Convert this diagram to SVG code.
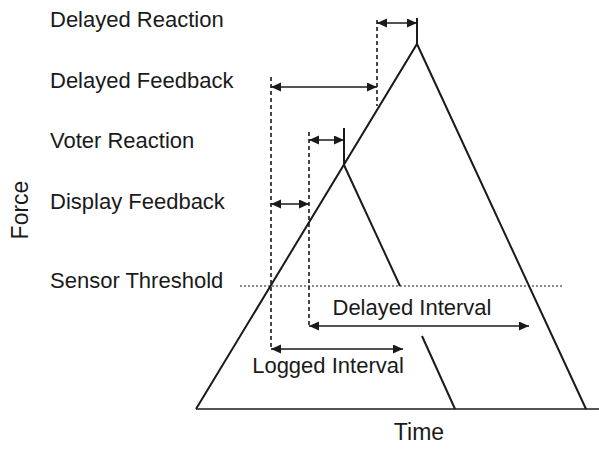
<svg xmlns="http://www.w3.org/2000/svg" width="599" height="450" viewBox="0 0 599 450">
  <style>
    .lbl { font-family: "Liberation Sans", Arial, Helvetica, sans-serif; font-size: 22px; fill: #1a1a1a; }
    .axis { font-family: "Liberation Sans", Arial, Helvetica, sans-serif; font-size: 23px; fill: #1a1a1a; }
    .curve { fill: none; stroke: #1a1a1a; stroke-width: 2; stroke-linecap: butt; }
    .base { fill: none; stroke: #1a1a1a; stroke-width: 1.6; }
    .dash { fill: none; stroke: #1a1a1a; stroke-width: 1.6; stroke-dasharray: 4 3; }
    .dot { fill: none; stroke: #1a1a1a; stroke-width: 1.1; stroke-dasharray: 2 2; }
    .dim { fill: none; stroke: #1a1a1a; stroke-width: 1.3; marker-start: url(#head); marker-end: url(#head); }
  </style>
  <defs>
    <marker id="head" markerUnits="userSpaceOnUse" markerWidth="11" markerHeight="10" refX="10" refY="4.5" orient="auto-start-reverse">
      <path d="M0,0 L10,4.5 L0,9 z" fill="#1a1a1a"/>
    </marker>
  </defs>

  <rect width="599" height="450" fill="#ffffff"/>

  <!-- axis labels -->
  <g id="axis-time"><text class="axis" x="419" y="440" text-anchor="middle">Time</text></g>
  <g id="axis-force"><text class="axis" x="0" y="0" text-anchor="middle" transform="translate(28 210) rotate(-90)">Force</text></g>

  <!-- row labels -->
  <g id="label-delayed-reaction"><text class="lbl" x="50" y="27">Delayed Reaction</text></g>
  <g id="label-delayed-feedback"><text class="lbl" x="50" y="88">Delayed Feedback</text></g>
  <g id="label-voter-reaction"><text class="lbl" x="50" y="148">Voter Reaction</text></g>
  <g id="label-display-feedback"><text class="lbl" x="50" y="209">Display Feedback</text></g>
  <g id="label-sensor-threshold"><text class="lbl" x="50" y="288">Sensor Threshold</text></g>

  <!-- force profiles -->
  <g id="profile-large">
    <path class="curve" d="M196,409 L417,44 L586,409"/>
    <line class="curve" x1="417" y1="18" x2="417" y2="44"/>
  </g>
  <g id="profile-small">
    <line class="curve" x1="344" y1="165" x2="400" y2="286"/>
    <line class="curve" x1="422" y1="336" x2="455" y2="409"/>
    <line class="curve" x1="344" y1="128" x2="344" y2="165"/>
  </g>
  <g id="time-axis">
    <line class="base" x1="196" y1="409" x2="599" y2="409"/>
  </g>
  <g id="threshold">
    <line class="dot" x1="240" y1="286" x2="562" y2="286"/>
  </g>

  <!-- intervals -->
  <g id="connectors">
    <line class="dash" x1="377" y1="20" x2="377" y2="106"/>
    <line class="dash" x1="271" y1="77" x2="271" y2="350"/>
    <line class="dash" x1="309" y1="132" x2="309" y2="327"/>

    <line class="dim" x1="377" y1="23" x2="417" y2="23"/>
    <line class="dim" x1="271" y1="87" x2="377" y2="87"/>
    <line class="dim" x1="309" y1="140" x2="344" y2="140"/>
    <line class="dim" x1="271" y1="204" x2="309" y2="204"/>
    <line class="dim" x1="309" y1="326" x2="529" y2="326"/>
    <line class="dim" x1="271" y1="349" x2="403" y2="349"/>
  </g>

  <g id="label-delayed-interval"><text class="lbl" x="412" y="315" text-anchor="middle">Delayed Interval</text></g>
  <g id="label-logged-interval"><text class="lbl" x="328" y="373" text-anchor="middle">Logged Interval</text></g>
</svg>
